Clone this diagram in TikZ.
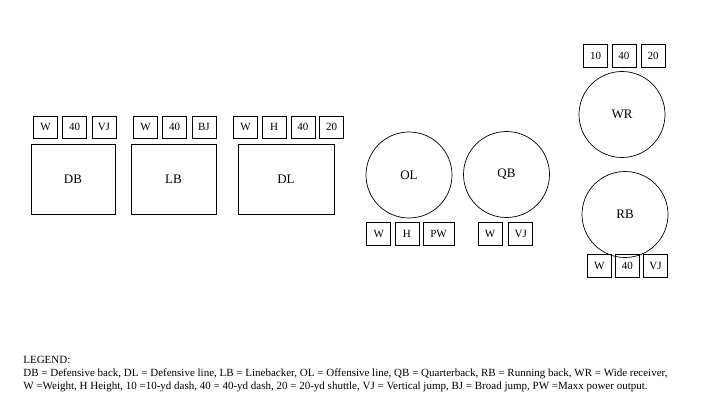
\documentclass[tikz,border=0pt]{standalone}
\usepackage{fontspec}
\setmainfont{Liberation Serif}
\usetikzlibrary{positioning}

\begin{document}
\begin{tikzpicture}[
  x=1pt, y=1pt,
  line width=0.7pt,
  posbox/.style={draw, minimum width=84pt, minimum height=70pt, font=\fontsize{13}{15}\selectfont},
  poscirc/.style={draw, circle, minimum size=86pt, font=\fontsize{13}{15}\selectfont},
  attr/.style={draw, minimum width=24pt, minimum height=22pt, inner sep=1pt, font=\fontsize{11}{13}\selectfont}
]
\useasboundingbox (0,0) rectangle (720,405);

% defense
\node[posbox] (db) at (73,226) {DB};
\node[posbox, minimum width=85pt] (lb) at (173.5,226) {LB};
\node[posbox, minimum width=96pt] (dl) at (286,226) {DL};

\node[attr] (dbw) at (45.5,278) {W};
\node[attr, right=4.5pt of dbw] (db40) {40};
\node[attr, right=4.5pt of db40] (dbvj) {VJ};

\node[attr] (lbw) at (145.5,278) {W};
\node[attr, right=4.5pt of lbw] (lb40) {40};
\node[attr, right=4.5pt of lb40] (lbbj) {BJ};

\node[attr] (dlw) at (245.5,278) {W};
\node[attr, right=4pt of dlw] (dlh) {H};
\node[attr, right=4pt of dlh] (dl40) {40};
\node[attr, right=4pt of dl40] (dl20) {20};

% offense
\node[poscirc] (ol) at (409,230) {OL};
\node[poscirc] (qb) at (506.5,230.5) {QB};

\node[attr, minimum height=23pt] (olw) at (378.7,171) {W};
\node[attr, minimum height=23pt, right=3.5pt of olw] (olh) {H};
\node[attr, minimum height=23pt, minimum width=31pt, right=3.5pt of olh] (olpw) {PW};

\node[attr, minimum height=23pt] (qbw) at (490,171) {W};
\node[attr, minimum height=23pt, right=6pt of qbw] (qbvj) {VJ};

\node[poscirc] (wr) at (622,290.5) {WR};
\node[poscirc] (rb) at (625,190.5) {RB};

\node[attr, minimum height=23pt] (wr10) at (595.7,349.3) {10};
\node[attr, minimum height=23pt, right=3.5pt of wr10] (wr40) {40};
\node[attr, minimum height=23pt, right=4.5pt of wr40] (wr20) {20};

\node[attr, minimum height=23pt] (rbw) at (599.2,139.2) {W};
\node[attr, minimum height=23pt, right=3.5pt of rbw] (rb40) {40};
\node[attr, minimum height=23pt, right=3.5pt of rb40] (rbvj) {VJ};

% legend
\node[anchor=base west, align=left, inner sep=0pt,
  font=\fontsize{11}{13}\selectfont] (legend) at (23,16)
  {LEGEND:\\
   DB = Defensive back, DL = Defensive line, LB = Linebacker, OL = Offensive line, QB = Quarterback, RB = Running back, WR = Wide receiver,\\
   W =Weight, H Height, 10 =10-yd dash, 40 = 40-yd dash, 20 = 20-yd shuttle, VJ = Vertical jump, BJ = Broad jump, PW =Maxx power output.};
\end{tikzpicture}
\end{document}
